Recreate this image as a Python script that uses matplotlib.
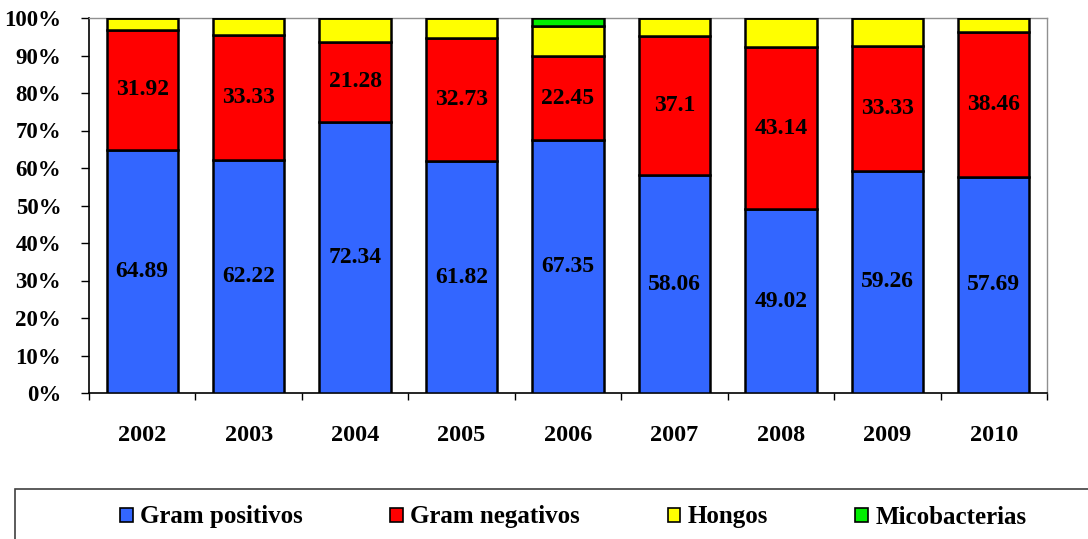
import matplotlib
matplotlib.use("Agg")
import matplotlib.pyplot as plt
from matplotlib.patches import Rectangle
import numpy as np

plt.rcParams['font.family'] = ['Liberation Serif', 'DejaVu Serif']
plt.rcParams['font.weight'] = 'bold'

years = ['2002', '2003', '2004', '2005', '2006', '2007', '2008', '2009', '2010']
gram_pos = [64.89, 62.22, 72.34, 61.82, 67.35, 58.06, 49.02, 59.26, 57.69]
gram_neg = [31.92, 33.33, 21.28, 32.73, 22.45, 37.1, 43.14, 33.33, 38.46]
hongos = [3.19, 4.45, 6.38, 5.45, 8.16, 4.84, 7.84, 7.41, 3.85]
micobacterias = [0, 0, 0, 0, 2.04, 0, 0, 0, 0]

series = [
    ('Gram positivos', gram_pos, '#3366FF'),
    ('Gram negativos', gram_neg, '#FF0000'),
    ('Hongos', hongos, '#FFFF00'),
    ('Micobacterias', micobacterias, '#00EE00'),
]

fig = plt.figure(figsize=(10.88, 5.39), dpi=100)
ax = fig.add_axes([89 / 1088, 1 - 393 / 539, (1047 - 89) / 1088, (393 - 18) / 539])

x = np.arange(len(years))
bottom = np.zeros(len(years))
handles = []
for i, (name, vals, color) in enumerate(series):
    vals = np.array(vals, dtype=float)
    bars = ax.bar(x, vals, width=0.67, bottom=bottom, color=color,
                  edgecolor='black', linewidth=1.8, label=name, zorder=3)
    handles.append(bars)
    if i < 2:
        for xi, b, v in zip(x, bottom, vals):
            ax.text(xi, b + v / 2, f'{v:g}', ha='center', va='center',
                    fontsize=17, fontweight='bold', zorder=4)
    bottom += vals

ax.set_xlim(-0.5, len(years) - 0.5)
ax.set_ylim(0, 100)
ax.set_yticks(np.arange(0, 101, 10))
ax.set_yticklabels([f'{v}%' for v in range(0, 101, 10)])
ax.tick_params(axis='y', direction='out', length=6, width=1, pad=14,
               labelsize=16.5)

# category boundaries carry the tick marks; labels sit at the centers
ax.set_xticks(np.arange(-0.5, len(years)), minor=False)
ax.set_xticklabels([])
ax.tick_params(axis='x', which='major', direction='out', length=5, width=1)
ax.set_xticks(x, minor=True)
ax.set_xticklabels(years, minor=True)
ax.tick_params(axis='x', which='minor', length=0, pad=23, labelsize=17.5)

for s in ['left', 'bottom']:
    ax.spines[s].set_color('black')
    ax.spines[s].set_linewidth(1.2)
for s in ['top', 'right']:
    ax.spines[s].set_color('#909090')
    ax.spines[s].set_linewidth(1.0)

# legend frame running off the right and bottom edges
fig.patches.append(Rectangle((15 / 1088, -0.2), 1.2, (539 - 489) / 539 + 0.2,
                             transform=fig.transFigure, facecolor='none',
                             edgecolor='#404040', linewidth=1.2))

leg = fig.legend(handles=handles, labels=[s[0] for s in series], ncol=4,
                 loc='center left', bbox_to_anchor=(120 / 1088, 1 - 517 / 539),
                 frameon=False, fontsize=18, handlelength=0.5,
                 handleheight=0.5, handletextpad=0.3, columnspacing=3.5,
                 borderpad=0, borderaxespad=0)
for h in leg.legend_handles:
    h.set_linewidth(1.2)

fig.savefig('out.png', dpi=100)
